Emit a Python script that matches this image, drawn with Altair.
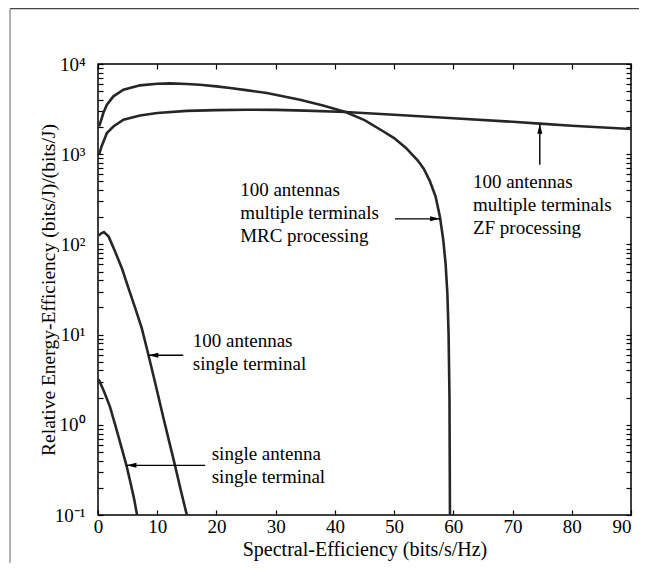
import json
import altair as alt
import pandas as pd

# ---------------- data ----------------
# 100 antennas, multiple terminals, ZF processing
zf_x = [0.2, 0.6, 1.5, 2.6, 4.3, 7.1, 10, 15, 20, 25, 30, 35, 41.8, 50, 60, 70, 74.6, 80, 90]
zf_y = [1000, 1220, 1720, 2030, 2410, 2690, 2860, 3020, 3080, 3110, 3100, 3040, 2940, 2740, 2500, 2290, 2180, 2070, 1900]

# 100 antennas, multiple terminals, MRC processing
mrc_x = [0.2, 0.9, 1.5, 2.6, 4.3, 7.1, 10, 12.2, 15, 17.2, 20, 22.3, 25, 28.5, 31, 34.1, 38, 41.8,
         45, 48, 50, 52, 54, 55, 56, 57, 57.75, 58.3, 58.7, 59.0, 59.2, 59.35, 59.45]
mrc_y = [2030, 2860, 3540, 4380, 5190, 5800, 6030, 6100, 6000, 5890, 5650, 5420, 5130, 4770, 4420, 4020, 3470, 2940,
         2390, 1820, 1510, 1175, 850, 690, 510, 340, 200, 112, 60, 28, 10, 2, 0.05]

# 100 antennas, single terminal
st_x = [0.1, 0.5, 1.0, 1.8, 2.9, 4.05, 5.2, 6.3, 7.4, 8.3, 9, 10, 11, 12, 13, 14, 15]
st_y = [125, 132, 137, 122, 83, 54, 32, 19.5, 11.7, 6.8, 4.4, 2.34, 1.23, 0.66, 0.355, 0.186, 0.1]

# single antenna, single terminal
sa_x = [0.1, 1, 2, 3, 4, 4.8, 5.5, 6.1, 6.6]
sa_y = [3.2, 2.35, 1.6, 0.95, 0.55, 0.355, 0.226, 0.15, 0.1]

series_names = ["ZF", "MRC", "single terminal", "single antenna"]

# annotations (position of the first line of each label)
label_lines = [
    ["100 antennas", "multiple terminals", "MRC processing"],
    ["100 antennas", "multiple terminals", "ZF processing"],
    ["100 antennas", "single terminal"],
    ["single antenna", "single terminal"],
]
label_x = [24.0, 63.3, 16.0, 19.2]
label_y = [404, 487, 8.41, 0.479]

arrow_x_from = [50.15, 74.6, 14.4, 18.1]
arrow_y_from = [192, 765, 5.91, 0.355]
arrow_x_to = [57.75, 74.6, 8.5, 4.8]
arrow_y_to = [192, 2180, 5.91, 0.355]
arrow_dir = ["right", "up", "left", "left"]

x_ticks = [0, 10, 20, 30, 40, 50, 60, 70, 80, 90]
y_major = [0.1, 1, 10, 100, 1000, 10000]
y_major_text = ["10⁻¹", "10⁰", "10¹", "10²", "10³", "10⁴"]
y_ticks = [round(m * 10.0 ** e, 6) for e in range(-1, 4) for m in range(1, 10)] + [10000]

# ---------------- tables ----------------
rows = []
for name, xs, ys in zip(series_names, [zf_x, mrc_x, st_x, sa_x], [zf_y, mrc_y, st_y, sa_y]):
    for a, b in zip(xs, ys):
        rows.append({"series": name, "se": a, "ee": b})
curves = pd.DataFrame(rows)

labels = pd.DataFrame({"text": label_lines, "se": label_x, "ee": label_y})
arrows = pd.DataFrame({"se": arrow_x_from, "ee": arrow_y_from,
                       "se2": arrow_x_to, "ee2": arrow_y_to, "dir": arrow_dir})

FONT = "Liberation Serif"
W, H = 533, 451

xscale = alt.Scale(domain=[0, 90], nice=False)
yscale = alt.Scale(type="log", domain=[0.1, 10000], nice=False)

maj = json.dumps(y_major)
txt = json.dumps(y_major_text, ensure_ascii=False)
label_expr = f"indexof({maj}, datum.value) >= 0 ? {txt}[indexof({maj}, datum.value)] : ''"

x_axis = alt.Axis(orient="bottom", values=x_ticks, format="d", tickSize=5, offset=-5, domain=False,
                  grid=False, labelPadding=2, labelFlush=False, labelOverlap=False,
                  labelAlign={"condition": {"test": f"datum.value >= {x_ticks[-1]}", "value": "right"},
                              "value": "center"},
                  title="Spectral-Efficiency (bits/s/Hz)", titleFontSize=20,
                  titleX=W / 2, titleY=39, titleAlign="center", titleBaseline="middle")
y_axis = alt.Axis(orient="left", values=y_ticks, labelExpr=label_expr, tickSize=5, offset=-5,
                  domain=False, grid=False, labelPadding=13, labelOverlap=False, labelFlush=False,
                  title="Relative Energy-Efficiency (bits/J)/(bits/J)", titleFontSize=19.5,
                  titleX=-55, titleY=H / 2, titleAngle=270, titleAlign="center", titleBaseline="middle")


def X(field):
    return alt.X(field, type="quantitative", scale=xscale, axis=x_axis)


def Y(field):
    return alt.Y(field, type="quantitative", scale=yscale, axis=y_axis)


lines = alt.Chart(curves).mark_line(color="#262626", strokeWidth=2.6, clip=True).encode(
    x=X("se"), y=Y("ee"), detail="series:N",
)

text = alt.Chart(labels).mark_text(font=FONT, fontSize=19, align="left", baseline="middle",
                                   lineHeight=23, color="black").encode(
    x=X("se"), y=Y("ee"), text="text",
)

shafts = alt.Chart(arrows).mark_rule(color="black", strokeWidth=1.4).encode(
    x=X("se"), y=Y("ee"), x2="se2:Q", y2="ee2:Q",
)

heads = alt.Chart(arrows).mark_point(filled=True, opacity=1, color="black", size=100).encode(
    x=X("se2"), y=Y("ee2"),
    shape=alt.Shape("dir:N", legend=None, scale=alt.Scale(
        domain=["left", "right", "up"],
        range=["M0,0L2,-0.5L2,0.5Z", "M0,0L-2,-0.5L-2,0.5Z", "M0,0L-0.5,2L0.5,2Z"])),
)

frame_df = pd.DataFrame({"k": [0]})
frame_top = alt.Chart(frame_df).mark_rule(color="#444", strokeWidth=1.5).encode(
    x=alt.value(-88), x2=alt.value(W + 40), y=alt.value(-55.5))
frame_left = alt.Chart(frame_df).mark_rule(color="#999", strokeWidth=1.5).encode(
    x=alt.value(-88), y=alt.value(-55.5), y2=alt.value(H + 60))

main = alt.layer(lines, shafts, heads, text, frame_top, frame_left)

ticks = alt.Chart(curves).mark_line(opacity=0).encode(
    x=alt.X("se:Q", scale=xscale, axis=alt.Axis(orient="top", values=x_ticks, labels=False, tickSize=5,
                                                  offset=-5, domain=False, grid=False, title=None)),
    y=alt.Y("ee:Q", scale=yscale, axis=alt.Axis(orient="right", values=y_ticks, labels=False, tickSize=5,
                                                  offset=-5, domain=False, grid=False, title=None)),
    detail="series:N",
)

chart = alt.layer(main, ticks).resolve_scale(x="independent", y="independent").properties(
    width=W, height=H,
    autosize=alt.AutoSizeParams(type="none"),
    padding={"left": 90, "top": 56, "right": 8, "bottom": 48},
).configure_view(stroke="black", strokeWidth=1.5).configure_axis(
    labelFont=FONT, titleFont=FONT, labelFontSize=19, titleFontWeight="normal",
    labelColor="black", titleColor="black", tickColor="black", tickWidth=1.2,
)

chart.save("out.html", embed_options={"renderer": "svg", "actions": False})
